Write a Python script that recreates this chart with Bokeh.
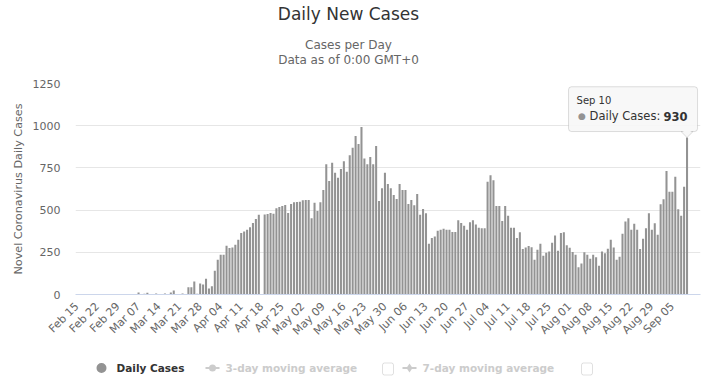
import pandas as pd
import math
from bokeh.plotting import figure
from bokeh.layouts import column
from bokeh.models import Range1d, FixedTicker, Label, BoxAnnotation, PolyAnnotation, ColumnDataSource
from bokeh.embed import file_html
from bokeh.resources import INLINE

# ---------------- data ----------------
dates = list(pd.date_range("2020-02-15", "2020-09-10").strftime("%b %d"))
cases = (
    [0] * 20
    + [0, 12, 0, 5, 10, 0, 0, 6, 0, 0, 6, 0, 12, 24, 0, 0, 6, 0]
    + [43, 43, 77, 5, 65, 59, 94, 35, 49, 141, 206, 236, 236, 289, 275, 279, 295, 324,
       364, 373, 383, 399, 423, 448, 472, 0]
    + [474, 477, 483, 479, 511, 519, 525, 530, 483, 536, 546, 548, 550, 558, 560, 560,
       452, 544, 495, 546, 619, 772, 672, 780, 721, 692, 743, 790, 727, 825, 869, 939, 892, 992]
    + [806, 772, 815, 772, 880, 554, 629, 721, 654, 629, 590, 566, 654, 619, 619, 536,
       560, 528, 595, 472, 507, 481, 301, 334, 343, 377, 383, 389, 383, 383, 371, 370,
       440, 424, 407, 383, 428, 440, 415, 395, 393, 393]
    + [668, 707, 677, 525, 525, 436, 525, 466, 395, 395, 334, 369, 269, 279, 288, 280,
       206, 265, 301, 230, 248, 254, 306, 349, 259, 364, 369, 292, 277, 252, 236, 161, 183]
    + [250, 236, 212, 236, 220, 171, 255, 244, 271, 324, 279, 206, 224, 360, 432, 452,
       383, 419, 383, 269, 330, 393, 481, 383, 422, 354, 534, 564, 731, 609, 609, 698,
       505, 466, 639, 930]
)
tick_step = 7
y_ticks = [0, 250, 500, 750, 1000, 1250]
title_text = "Daily New Cases"
subtitle_lines = ["Cases per Day", "Data as of 0:00 GMT+0"]
y_title = "Novel Coronavirus Daily Cases"
legend_labels = ["Daily Cases", "3-day moving average", "7-day moving average"]

# ---------------- styling / geometry ----------------
FONT = "DejaVu Sans"
BAR = "#939393"
TOTAL_W = 704
H_HEAD, H_MAIN, H_LEG = 70, 275, 40
BL, BR, BT, BB = 75, 4, 13, 50
PX_PER_UNIT = 613 / len(dates)
X0 = -0.5
X1 = X0 + (TOTAL_W - BL - BR) / PX_PER_UNIT
Y0, Y1 = y_ticks[0], y_ticks[-1]

FL, FR = BL, TOTAL_W - BR
FT, FB = H_HEAD + BT, H_HEAD + H_MAIN - BB
def dx(px):
    return X0 + (px - FL) * (X1 - X0) / (FR - FL)
def dy(py):
    return Y0 + (FB - py) * (Y1 - Y0) / (FB - FT)
def px_of(x):
    return FL + (x - X0) * (FR - FL) / (X1 - X0)
def py_of(y):
    return FB - (y - Y0) * (FB - FT) / (Y1 - Y0)

def blank(h, y_top):
    # frame spans page x FL..FR (aligned with the main chart), so data x == page x
    f = figure(width=TOTAL_W, height=h, output_backend="svg", toolbar_location=None,
               x_range=Range1d(FL, FR), y_range=Range1d(y_top + h, y_top),
               x_axis_location=None, y_axis_location=None,
               min_border_left=BL, min_border_right=BR, min_border_top=0, min_border_bottom=0)
    f.grid.visible = False
    f.outline_line_color = None
    return f

# ---------------- header ----------------
head = blank(H_HEAD, 0)
CX = 348
head.add_layout(Label(x=CX, y=13, text=title_text, text_align="center", text_baseline="middle",
                      text_font=FONT, text_font_size="17px", text_color="#333333"))
for k, line in enumerate(subtitle_lines):
    head.add_layout(Label(x=CX, y=44.5 + 15 * k, text=line, text_align="center",
                          text_baseline="middle", text_font=FONT, text_font_size="12px",
                          text_color="#666666"))

# ---------------- main chart ----------------
p = figure(width=TOTAL_W, height=H_MAIN, output_backend="svg", toolbar_location=None,
           x_range=Range1d(X0, X1), y_range=Range1d(Y0, Y1),
           min_border_left=BL, min_border_right=BR, min_border_top=BT, min_border_bottom=BB)
p.outline_line_color = None

src = ColumnDataSource(dict(x=list(range(len(cases))), top=cases, date=dates))
p.vbar(x="x", top="top", width=0.7, source=src, fill_color=BAR, line_color=None)

p.xgrid.grid_line_color = None
p.ygrid.grid_line_color = "#e6e6e6"
p.ygrid.ticker = FixedTicker(ticks=y_ticks)

ticks = list(range(0, len(dates), tick_step))
p.xaxis.ticker = FixedTicker(ticks=ticks)
p.xaxis.major_label_overrides = {i: dates[i] for i in ticks}
p.xaxis.major_label_orientation = math.pi / 4
p.xaxis.major_label_text_font = FONT
p.xaxis.major_label_text_font_size = "11px"
p.xaxis.major_label_text_color = "#666666"
p.xaxis.major_label_standoff = 4
p.xaxis.axis_line_color = "#ccd6eb"
p.xaxis.major_tick_line_color = None
p.xaxis.minor_tick_line_color = None

p.yaxis.ticker = FixedTicker(ticks=y_ticks)
p.yaxis.axis_label = y_title
p.yaxis.axis_label_text_font = FONT
p.yaxis.axis_label_text_font_size = "11.2px"
p.yaxis.axis_label_text_font_style = "normal"
p.yaxis.axis_label_text_color = "#666666"
p.yaxis.axis_label_standoff = 5
p.yaxis.major_label_text_font = FONT
p.yaxis.major_label_text_font_size = "11px"
p.yaxis.major_label_text_color = "#666666"
p.yaxis.major_label_standoff = 9
p.yaxis.axis_line_color = None
p.yaxis.major_tick_line_color = None
p.yaxis.minor_tick_line_color = None

# tooltip anchored to the last bar
ax, ay = px_of(len(cases) - 1), py_of(cases[-1])
tl, tr, tt, tb = ax - 118.5, ax + 10.5, ay - 51, ay - 6
p.add_layout(BoxAnnotation(left=dx(tl), right=dx(tr), top=dy(tt), bottom=dy(tb),
                           fill_color="#f7f7f7", fill_alpha=0.92, line_color=BAR, line_width=1,
                           border_radius=3))
p.add_layout(PolyAnnotation(xs=[dx(ax - 6), dx(ax + 6), dx(ax)], ys=[dy(tb), dy(tb), dy(ay)],
                            fill_color="#f7f7f7", fill_alpha=1, line_color=BAR, line_width=1))
p.add_layout(PolyAnnotation(xs=[dx(ax - 5), dx(ax + 5), dx(ax)], ys=[dy(tb - 1), dy(tb - 1), dy(ay - 3)],
                            fill_color="#f7f7f7", fill_alpha=1, line_color=None))
p.add_layout(Label(x=dx(tl + 8), y=dy(tt + 14), text=dates[-1], text_baseline="middle",
                   text_font=FONT, text_font_size="10px", text_color="#333333"))
p.add_layout(Label(x=dx(tl + 13.5), y=dy(tt + 29.5), text="●", text_align="center", text_baseline="middle",
                   text_font=FONT, text_font_size="9px", text_color=BAR))
p.add_layout(Label(x=dx(tl + 21), y=dy(tt + 29.5), text=legend_labels[0] + ":", text_baseline="middle",
                   text_font=FONT, text_font_size="11.5px", text_color="#333333"))
p.add_layout(Label(x=dx(tr - 10), y=dy(tt + 29.5), text=str(cases[-1]), text_align="right",
                   text_baseline="middle", text_font=FONT, text_font_size="11.5px",
                   text_font_style="bold", text_color="#333333"))

# ---------------- legend row ----------------
leg = blank(H_LEG, H_HEAD + H_MAIN)
LY = 367.5
LEG_FONT = "10.5px"
leg.scatter(x=[101], y=[LY], marker="circle", size=10, fill_color=BAR, line_color=None)
leg.add_layout(Label(x=116, y=LY, text=legend_labels[0], text_baseline="middle", text_font=FONT,
                     text_font_size=LEG_FONT, text_font_style="bold", text_color="#333333"))
for (lx, mk, msz, tx, cbx, lab) in [(205, "circle", 7, 225, 382, legend_labels[1]),
                                    (402, "diamond", 9, 422, 581, legend_labels[2])]:
    leg.segment(x0=[lx], y0=[LY], x1=[lx + 14], y1=[LY], line_color="#cccccc", line_width=2)
    leg.scatter(x=[lx + 7], y=[LY], marker=mk, size=msz, fill_color="#cccccc", line_color=None)
    leg.add_layout(Label(x=tx, y=LY, text=lab, text_baseline="middle", text_font=FONT,
                         text_font_size=LEG_FONT, text_font_style="bold", text_color="#cccccc"))
    leg.add_layout(BoxAnnotation(left=cbx, right=cbx + 11, top=LY - 5, bottom=LY + 7,
                                 fill_color="white", fill_alpha=1, line_color="#999999",
                                 line_width=1, border_radius=2))

page = column(head, p, leg, spacing=0)
open("out.html", "w").write(file_html(page, INLINE))
